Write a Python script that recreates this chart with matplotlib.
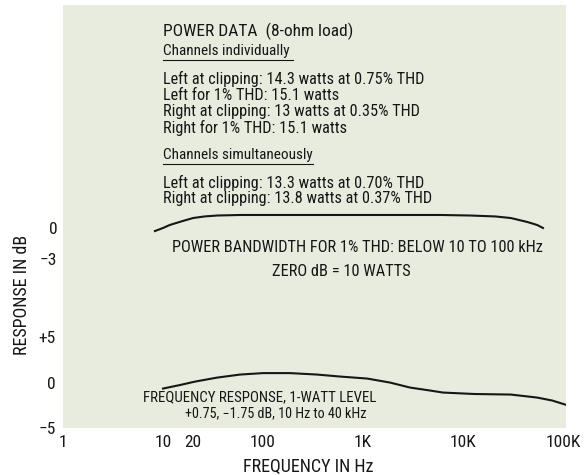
import matplotlib
matplotlib.use("Agg")
import matplotlib.pyplot as plt
from matplotlib import font_manager

# pick a condensed face if one is installed
names = {f.name for f in font_manager.fontManager.ttflist}
face = "DejaVu Sans"
for cand in ["Liberation Sans Narrow", "DejaVu Sans Condensed", "Roboto Condensed", "Liberation Sans"]:
    if cand in names:
        face = cand
        break
print("font:", face)
plt.rcParams['font.family'] = [face, 'DejaVu Sans']

# power bandwidth curve (dB re 10 W)
pb_freq = [8.3, 10, 11.7, 15.8, 20, 26, 35, 59, 100, 1000, 5900, 11700, 21000, 30000, 44000, 55000, 63000]
pb_db = [-0.29, 0.0, 0.29, 0.67, 0.95, 1.1, 1.19, 1.24, 1.24, 1.24, 1.24, 1.19, 1.1, 0.95, 0.57, 0.29, 0.0]

# frequency response at 1 W
fr_freq = [10, 14.8, 21, 35, 59, 100, 186, 347, 590, 1100, 1860, 2950, 4700, 6300, 13000, 30000, 55000, 78000, 105000]
fr_db = [-0.66, -0.27, 0.11, 0.55, 0.88, 1.04, 1.04, 0.88, 0.66, 0.44, 0.0, -0.55, -0.88, -1.1, -1.26, -1.32, -1.65, -1.98, -2.42]

xticks = [1, 10, 20, 100, 1000, 10000, 100000]
xlabels = ["1", "10", "20", "100", "1K", "10K", "100K"]

power_lines = [
    "Left at clipping: 14.3 watts at 0.75% THD",
    "Left for 1% THD: 15.1 watts",
    "Right at clipping: 13 watts at 0.35% THD",
    "Right for 1% THD: 15.1 watts",
]
simul_lines = [
    "Left at clipping: 13.3 watts at 0.70% THD",
    "Right at clipping: 13.8 watts at 0.37% THD",
]

W, H = 588, 475
ink = "#161616"
fig = plt.figure(figsize=(W / 100, H / 100), dpi=100)
fig.patch.set_facecolor("white")

def fx(x):
    return x / W

def fy(y):
    return 1 - y / H

ax = fig.add_axes([fx(63), fy(428), 503 / W, 423 / H])
ax.set_facecolor("#e8ecdf")
ax.set_xscale("log")
ax.set_xlim(1, 107000)
ax.set_ylim(-4.945, 41.54)
for s in ax.spines.values():
    s.set_visible(False)
ax.plot(fr_freq, fr_db, color=ink, lw=1.5)

# second scale for the power bandwidth curve, same frequency axis
ax2 = ax.twinx()
ax2.set_ylim(-19.05, 21.24)
for s in ax2.spines.values():
    s.set_visible(False)
ax2.plot(pb_freq, pb_db, color=ink, lw=1.5)
ax2.yaxis.set_ticks_position("left")
ax2.set_yticks([0, -3])
ax2.set_yticklabels(["0", "\u22123"])
ax2.tick_params(axis="y", length=0, pad=4, labelsize=12.5, colors=ink)

ax.set_xticks(xticks)
ax.set_xticklabels(xlabels)
ax.xaxis.set_minor_locator(matplotlib.ticker.NullLocator())
ax.set_yticks([5, 0, -5])
ax.set_yticklabels(["+5", "0", "\u22125"])
ax.tick_params(axis="x", length=0, pad=5, labelsize=12.5, colors=ink)
ax.tick_params(axis="y", length=0, pad=5, labelsize=12.5, colors=ink)

fig.text(fx(22), fy(295), "RESPONSE IN dB", rotation=90, ha="center", va="center", fontsize=13, color=ink)
fig.text(fx(308), fy(467), "FREQUENCY IN Hz", ha="center", va="center", fontsize=13, color=ink)

# power data block
fig.text(fx(163), fy(31), "POWER DATA  (8-ohm load)", ha="left", va="center", fontsize=12.5, color=ink)
fig.text(fx(163), fy(51), "Channels individually", ha="left", va="center", fontsize=11, color=ink)
fig.add_artist(plt.Line2D([fx(163), fx(293)], [fy(60), fy(60)], color=ink, lw=0.8))
for i, t in enumerate(power_lines):
    fig.text(fx(163), fy(79 + 16.3 * i), t, ha="left", va="center", fontsize=11.7, color=ink)
fig.text(fx(163), fy(155), "Channels simultaneously", ha="left", va="center", fontsize=11, color=ink)
fig.add_artist(plt.Line2D([fx(163), fx(313)], [fy(164), fy(164)], color=ink, lw=0.8))
for i, t in enumerate(simul_lines):
    fig.text(fx(163), fy(183 + 15 * i), t, ha="left", va="center", fontsize=11.7, color=ink)

fig.text(fx(357), fy(248), "POWER BANDWIDTH FOR 1% THD: BELOW 10 TO 100 kHz", ha="center", va="center", fontsize=11.8, color=ink)
fig.text(fx(341), fy(271), "ZERO dB = 10 WATTS", ha="center", va="center", fontsize=11.8, color=ink)

fig.text(fx(143), fy(397), "FREQUENCY RESPONSE, 1-WATT LEVEL", ha="left", va="center", fontsize=10.7, color=ink)
fig.text(fx(185), fy(413), "+0.75, \u22121.75 dB, 10 Hz to 40 kHz", ha="left", va="center", fontsize=10.2, color=ink)

fig.savefig("out.png", dpi=100, facecolor="white")
